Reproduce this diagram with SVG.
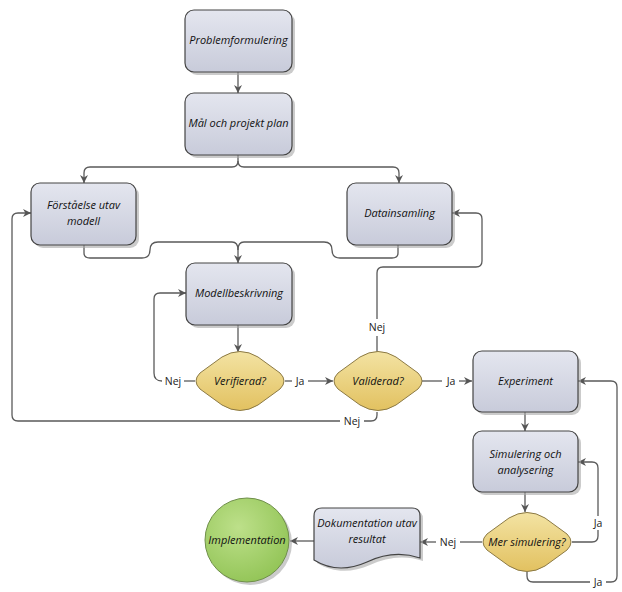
<svg xmlns="http://www.w3.org/2000/svg" width="622" height="592" viewBox="0 0 622 592">
<defs>
<linearGradient id="gBox" x1="0" y1="0" x2="0" y2="1"><stop offset="0" stop-color="#e4e6ef"/><stop offset="1" stop-color="#c8cbda"/></linearGradient>
<linearGradient id="gDia" x1="0" y1="0" x2="0" y2="1"><stop offset="0" stop-color="#f3e3a3"/><stop offset="1" stop-color="#e2c160"/></linearGradient>
<radialGradient id="gCirc" cx="0.4" cy="0.35" r="0.7"><stop offset="0" stop-color="#bde08a"/><stop offset="1" stop-color="#92c456"/></radialGradient>
<marker id="arr" viewBox="0 0 10 10" refX="10" refY="5" markerWidth="8" markerHeight="8" markerUnits="userSpaceOnUse" orient="auto"><path d="M0,0 L10,5 L0,10 L3,5 z" fill="#555"/></marker>
</defs>
<style>
.box{fill:url(#gBox);stroke:#444;stroke-width:1.2}
.sh{fill:#a8a8a8;opacity:0.6}
.dia{fill:url(#gDia);stroke:#8c7a45;stroke-width:1}
.t{font-family:"Open Sans","DejaVu Sans",sans-serif;font-style:italic;font-size:11px;fill:#111;text-anchor:middle}
.l{font-family:"Open Sans","DejaVu Sans",sans-serif;font-size:10.5px;fill:#222;text-anchor:middle}
.c{fill:none;stroke:#5a5a5a;stroke-width:1.3}
</style>
<rect width="622" height="592" fill="#fff"/>
<g id="connectors">
<path class="c" d="M238,72 V93" marker-end="url(#arr)"/>
<path class="c" d="M238,155 V161 Q238,167 232,167 H90 Q84,167 84,173 V183" marker-end="url(#arr)"/>
<path class="c" d="M238,161 Q238,167 244,167 H393 Q399,167 399,173 V183" marker-end="url(#arr)"/>
<path class="c" d="M84,245 V253 Q84,258 90,258 H142 Q150,258 150,250 Q150,242 158,242 H232 Q238,242 238,250 V263" marker-end="url(#arr)"/>
<path class="c" d="M398,245 V253 Q398,258 392,258 H340 Q332,258 332,250 Q332,242 324,242 H244 Q238,242 238,250"/>
<path class="c" d="M238,325 V352" marker-end="url(#arr)"/>
<path class="c" d="M195,381 H184"/>
<path class="c" d="M162,381 Q154,381 154,373 V299 Q154,293 160,293 H186" marker-end="url(#arr)"/>
<path class="c" d="M285,381 H292"/>
<path class="c" d="M308,381 H333" marker-end="url(#arr)"/>
<path class="c" d="M377,352 V336"/>
<path class="c" d="M377,319 V273 Q377,267 383,267 H476 Q482,267 482,261 V219 Q482,213 476,213 H452" marker-end="url(#arr)"/>
<path class="c" d="M422,381 H442"/>
<path class="c" d="M459,381 H472" marker-end="url(#arr)"/>
<path class="c" d="M377,412 V415 Q377,421 371,421 H364"/>
<path class="c" d="M340,421 H18 Q12,421 12,415 V219 Q12,213 18,213 H31" marker-end="url(#arr)"/>
<path class="c" d="M525,412 V431" marker-end="url(#arr)"/>
<path class="c" d="M525,492 V512" marker-end="url(#arr)"/>
<path class="c" d="M572,542 H592 Q598,542 598,536 V530"/>
<path class="c" d="M598,516 V468 Q598,462 592,462 H578" marker-end="url(#arr)"/>
<path class="c" d="M527,572 V576 Q527,582 533,582 H590"/>
<path class="c" d="M606,582 H611 Q617,582 617,576 V387 Q617,381 611,381 H578" marker-end="url(#arr)"/>
<path class="c" d="M482,542 H460"/>
<path class="c" d="M436,542 H420" marker-end="url(#arr)"/>
<path class="c" d="M314,541 H290" marker-end="url(#arr)"/>
<text class="l" x="173" y="385">Nej</text>
<text class="l" x="300" y="385">Ja</text>
<text class="l" x="377" y="331">Nej</text>
<text class="l" x="451" y="385">Ja</text>
<text class="l" x="352" y="425">Nej</text>
<text class="l" x="598" y="527">Ja</text>
<text class="l" x="598" y="586">Ja</text>
<text class="l" x="448" y="546">Nej</text>
</g>
<g id="n1"><rect class="sh" x="188" y="13" width="107" height="62" rx="9"/><rect class="box" x="185" y="10" width="107" height="62" rx="9"/><text class="t" x="238.5" y="44">Problemformulering</text></g>
<g id="n2"><rect class="sh" x="188" y="96" width="107" height="62" rx="9"/><rect class="box" x="185" y="93" width="107" height="62" rx="9"/><text class="t" x="238.5" y="127">Mål och projekt plan</text></g>
<g id="n3"><rect class="sh" x="34" y="186" width="105" height="62" rx="9"/><rect class="box" x="31" y="183" width="105" height="62" rx="9"/><text class="t" x="83.5" y="209">Förståelse utav</text><text class="t" x="83.5" y="225">modell</text></g>
<g id="n4"><rect class="sh" x="350" y="186" width="105" height="62" rx="9"/><rect class="box" x="347" y="183" width="105" height="62" rx="9"/><text class="t" x="399.5" y="217">Datainsamling</text></g>
<g id="n5"><rect class="sh" x="189" y="266" width="106" height="62" rx="9"/><rect class="box" x="186" y="263" width="106" height="62" rx="9"/><text class="t" x="239" y="297">Modellbeskrivning</text></g>
<g id="n6"><path class="dia" d="M222,357 Q240,346 258,357 L280,373 Q288,381 280,389 L258,405 Q240,416 222,405 L200,389 Q192,381 200,373 Z"/><text class="t" x="240" y="385">Verifierad?</text></g>
<g id="n7"><path class="dia" d="M360,357 Q378,346 396,357 L418,373 Q426,381 418,389 L396,405 Q378,416 360,405 L338,389 Q330,381 338,373 Z"/><text class="t" x="378" y="385">Validerad?</text></g>
<g id="n8"><rect class="sh" x="476" y="354" width="105" height="61" rx="9"/><rect class="box" x="473" y="351" width="105" height="61" rx="9"/><text class="t" x="525.5" y="385">Experiment</text></g>
<g id="n9"><rect class="sh" x="476" y="434" width="105" height="61" rx="9"/><rect class="box" x="473" y="431" width="105" height="61" rx="9"/><text class="t" x="525.5" y="458">Simulering och</text><text class="t" x="525.5" y="474">analysering</text></g>
<g id="n10"><path class="dia" d="M509,518 Q527,507 545,518 L567,534 Q575,542 567,550 L545,566 Q527,577 509,566 L487,550 Q479,542 487,534 Z"/><text class="t" x="527" y="546">Mer simulering?</text></g>
<g id="n11"><path class="sh" d="M317,519 Q317,511 325,511 H415 Q423,511 423,519 V561 C405,555 387,557 370,565 C352,573 333,573 317,563 Z"/><path class="box" d="M314,516 Q314,508 322,508 H412 Q420,508 420,516 V558 C402,552 384,554 367,562 C349,570 330,570 314,560 Z"/><text class="t" x="367" y="527">Dokumentation utav</text><text class="t" x="367" y="543">resultat</text></g>
<g id="n12"><circle cx="250" cy="543" r="42" fill="#a8a8a8" opacity="0.6"/><circle cx="247" cy="540" r="42" fill="url(#gCirc)" stroke="#6f8f4a" stroke-width="1"/><text class="t" x="247" y="544">Implementation</text></g>
</svg>
